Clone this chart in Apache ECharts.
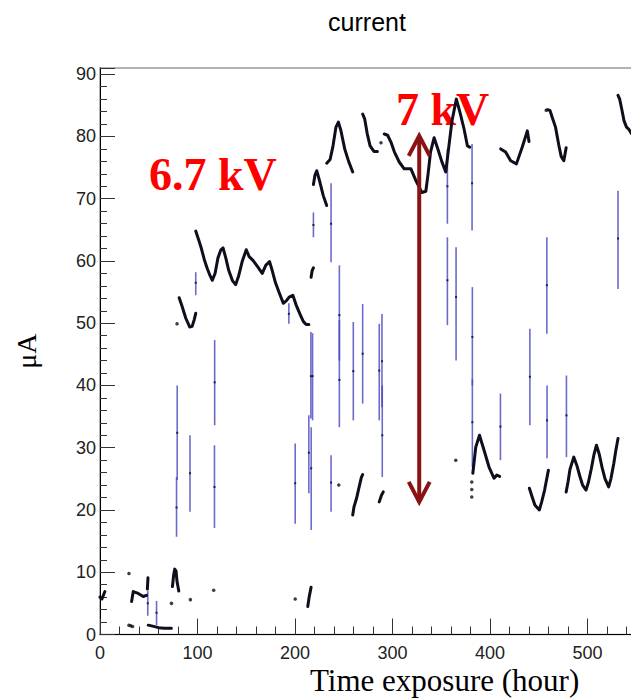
<!DOCTYPE html>
<html>
<head>
<meta charset="utf-8">
<script src="https://cdn.jsdelivr.net/npm/echarts@6/dist/echarts.min.js"></script>
<style>html,body{margin:0;padding:0;background:#fff;}#c{width:631px;height:700px;}</style>
</head>
<body>
<div id="c"></div>
<script>
// ---- tick labels / axis ----
const xTicks = [0, 100, 200, 300, 400, 500];
const yTicks = [0, 10, 20, 30, 40, 50, 60, 70, 80, 90];

// ---- black curve segments (x = hour, y = µA) ----
const segLowA = [[0,6.0],[2,5.7],[5,6.9]];
const segLowB = [[32.4,5.3],[34.1,6.9],[39.2,6.6],[44.3,6.1],[47.7,6.3]];
const segLowC = [[48.6,7.3],[49.2,9.1]];
const segLowD = [[49.5,1.5],[55,1.3],[60,1.1],[66,1.0],[73.2,1.0]];
const segLowE = [[74.3,7.7],[75.5,9.5],[76.7,10.5],[78,10.2],[79,8.5],[80.8,7.0]];
const segLowF = [[213.1,4.5],[214.5,6.0],[216.5,7.6]];
const seg67a = [[81.2,54.1],[84,52.8],[88,50.8],[92,49.4],[94.5,49.5],[96.5,50.5],[98.2,51.6]];
const seg67b = [[98.2,64.8],[101,63.5],[104,62],[107,60.2],[110,58.8],[113,57.6],[115.2,56.9],[118,58],[121,60.5],[124,61.8],[126.2,62.1],[129,60.5],[132,58.5],[136,56.8],[139.1,56.2],[142,57.5],[146,60],[150,61.8],[153,60.7],[156.9,60.1],[162,59],[166.4,58.0],[170,59.3],[173.9,59.9],[176,58.8],[180,56.5],[184,54.8],[188,53.2],[191,53.6],[194,54.2],[197.8,54.5],[201,53],[205,51.5],[208.5,50.3],[211.4,49.8],[214.2,49.8]];
const seg67c = [[216.5,57.4],[217.5,58.4],[218.9,58.9]];
const seg7a = [[218.9,72.3],[220.5,73.8],[222.3,74.5],[225,73],[229,70.5],[232.5,68.9]];
const seg7b = [[232.5,75.7],[236,76.3],[239,78.5],[242,81.5],[244.5,82.3],[247,81],[251,78],[255,76],[259.2,74.3]];
const seg7c = [[269.4,83.6],[271.5,82.8],[274,80.5],[277,78.5],[281,77.6],[284.5,77.6]];
const seg7d = [[291.6,80.4],[295,80.2],[298.4,79.1],[302,77.5],[306.9,75.9],[312,74.8],[318.9,74.8],[324,72.9],[330.1,71.0],[334.2,71.2],[336.5,74],[339,77.5],[342.7,79.8],[346.5,78],[350.5,76],[354.6,74.3],[357.5,78],[361,82.5],[365.5,86.0],[369,84],[373.4,81.2],[376.8,78.5],[379.2,78.3]];
const seg7e = [[411,78.0],[416,77.5],[421.2,76.1],[427.1,75.6],[433.1,78.3],[438.3,80.9],[440,79.2]];
const seg7f = [[459,84.3],[461.5,84.2],[463.5,83.2],[467.2,81.5],[470.6,78.6],[473,76.8],[475.7,76.1],[478.1,78.2]];
const seg7g = [[531.3,86.6],[533,86],[535,84.5],[537.5,82.5],[540,81.5],[542.2,81.2],[545,80.5]];
const seg7h = [[259.2,19.2],[260.5,20.5],[263,21.8],[265.5,23.5],[268,25.2],[269.4,25.7]];
const seg7i = [[286.4,21.3],[288.5,22.3],[290.5,22.9]];
const seg7j = [[382.4,25.9],[385.4,30.1],[389.2,32.0],[393.9,29.6],[399,26.9],[404.1,25.1],[407,25.6],[409.9,25.4]];
const seg7k = [[440.4,23.5],[443,22.2],[446,20.8],[450.6,20.0],[453,21.3],[456,23.2],[459.9,26.4]];
const seg7l = [[478.1,22.9],[480,24.5],[482,26.5],[485.9,28.5],[489,27.2],[492,25.5],[495,24],[498.5,23.2],[501,24.5],[504,26.7],[506.5,28.8],[509.2,30.4],[512,29],[515,26.8],[518,25],[521.7,23.7],[524,25],[527,27.5],[529,29.5],[531.3,31.5]];

// isolated black points
const blackDots = [[29.7,9.8],[29.7,1.5],[31.5,1.4],[33.4,1.3],[73.3,5.0],[92.7,5.6],[116.6,7.1],[200.2,5.7],[79,49.9],[244.9,24.0],[364.9,28.0],[381.3,24.5],[381.3,23.3],[381.3,22.1],[457.6,84.2],[288.2,79.0]];

// blue error bars: [x, value, low, high]
const errorBars = [
  [78.5,20.4,15.7,25.3],[79.2,32.4,24.8,40.0],[92.3,25.9,19.7,32.0],[98.2,56.5,54.5,58.2],
  [117.6,40.5,33.6,47.3],[117.4,23.7,17.1,30.4],[193.7,51.5,49.9,53.2],[200.2,24.3,17.8,30.7],
  [214.2,29.2,22.7,35.2],[216.6,26.7,16.8,33.3],[216.3,41.5,34.7,48.6],[218.0,41.5,34.4,48.4],
  [218.9,65.8,63.8,67.8],[237.0,66.0,59.8,72.5],[237.0,24.4,19.7,28.8],[245.5,51.3,44.0,59.3],
  [245.5,40.9,33.3,50.5],[259.8,42.3,34.4,50.2],[269.4,45.1,37.1,53.1],[286.4,42.4,34.4,49.9],
  [289.2,43.9,36.5,51.5],[289.5,32.0,25.3,40.0],[356.3,72.0,66.0,78.0],[356.3,56.9,49.7,63.8],
  [365.2,54.2,44.0,62.2],[381.6,72.5,64.9,78.8],[381.9,47.8,40.0,55.8],[381.9,34.1,26.9,41.0],
  [410.7,33.4,28.0,38.7],[440.9,41.4,33.6,49.1],[458.3,56.1,48.3,63.8],[458.5,34.4,28.3,40.0],
  [478.4,35.2,28.5,41.6],[531.3,63.6,55.5,71.3],[49,5.0,3.0,7.0],[58,3.5,1.5,5.4]
];

// voltage-step annotation arrow: [x, top, bottom]
const arrowSpan = [[327.4, 80.1, 21.3]];

const segments = [segLowA,segLowB,segLowC,segLowD,segLowE,segLowF,seg67a,seg67b,seg67c,
  seg7a,seg7b,seg7c,seg7d,seg7e,seg7f,seg7g,seg7h,seg7i,seg7j,seg7k,seg7l];

const chart = echarts.init(document.getElementById('c'), null, {renderer:'svg'});

const lineSeries = segments.map(seg => ({
  type:'line', data:seg, showSymbol:false, symbol:'none', z:5,
  lineStyle:{color:'#0e0e1c', width:3, cap:'round', join:'round'},
  silent:true, animation:false
}));

const option = {
  animation:false,
  backgroundColor:'#fff',
  grid:{left:100, top:68, width:546, height:566.5, show:true, borderColor:'#9a9a9a', borderWidth:1.5,
        containLabel:false, outerBoundsMode:'none'},
  xAxis:{
    type:'value', min:0, max:560, interval:100,
    axisLine:{onZero:false, lineStyle:{color:'#000', width:1}},
    axisTick:{inside:true, length:16, lineStyle:{color:'#333'}},
    minorTick:{show:true, splitNumber:5, length:8, lineStyle:{color:'#333'}},
    splitLine:{show:false},
    axisLabel:{fontSize:18, fontFamily:'Liberation Sans', color:'#222', margin:9,
      formatter: v => xTicks.indexOf(v) >= 0 ? String(v) : ''}
  },
  yAxis:{
    type:'value', min:0, max:91, interval:10,
    name:'μA', nameLocation:'middle', nameRotate:90, nameGap:60,
    nameTextStyle:{fontFamily:'Liberation Serif', fontSize:28, color:'#000'},
    axisLine:{onZero:false, lineStyle:{color:'#000', width:1}},
    axisTick:{inside:true, length:15, lineStyle:{color:'#333'}},
    minorTick:{show:true, splitNumber:5, length:7, lineStyle:{color:'#333'}},
    splitLine:{show:false},
    axisLabel:{fontSize:18, fontFamily:'Liberation Sans', color:'#222', margin:4,
      formatter: v => yTicks.indexOf(v) >= 0 ? String(v) : ''}
  },
  graphic:[
    {type:'text', style:{x:367, y:22, text:'current', font:'25px "Liberation Sans"', fill:'#000', textAlign:'center', textVerticalAlign:'middle'}},
    {type:'text', style:{x:310, y:680, text:'Time exposure (hour)', font:'31px "Liberation Serif"', fill:'#000', textAlign:'left', textVerticalAlign:'middle'}},
    {type:'text', style:{x:149, y:174, text:'6.7 kV', font:'bold 46px "Liberation Serif"', fill:'#ff0000', textAlign:'left', textVerticalAlign:'middle'}},
    {type:'text', style:{x:396, y:109, text:'7 kV', font:'bold 46px "Liberation Serif"', fill:'#ff0000', textAlign:'left', textVerticalAlign:'middle'}}
  ],
  series:[
    {
      type:'custom', data:errorBars, z:3, silent:true, clip:true,
      encode:{x:0, y:[1,2,3]},
      renderItem:(params, api) => {
        const x = api.value(0);
        const lo = api.coord([x, api.value(2)]);
        const hi = api.coord([x, api.value(3)]);
        const mid = api.coord([x, api.value(1)]);
        return {type:'group', children:[
          {type:'line', shape:{x1:lo[0], y1:lo[1], x2:hi[0], y2:hi[1]}, style:{stroke:'rgba(70,70,190,0.8)', lineWidth:1.6}},
          {type:'rect', shape:{x:mid[0]-1, y:mid[1]-1, width:2, height:2}, style:{fill:'#223'}}
        ]};
      }
    },
    ...lineSeries,
    {type:'scatter', data:blackDots, symbol:'circle', symbolSize:3.5, z:6, silent:true,
      itemStyle:{color:'#0e0e1c'}},
    {
      type:'custom', data:arrowSpan, z:10, silent:true, clip:false,
      encode:{x:0, y:[1,2]},
      renderItem:(params, api) => {
        const x = api.value(0);
        const t = api.coord([x, api.value(1)]);
        const b = api.coord([x, api.value(2)]);
        const hw = 10.5, hl = 20, c = '#8b1212';
        return {type:'group', children:[
          {type:'line', shape:{x1:t[0], y1:t[1]+2, x2:b[0], y2:b[1]-2}, style:{stroke:c, lineWidth:4}},
          {type:'polyline', shape:{points:[[t[0]-hw, t[1]+hl],[t[0], t[1]],[t[0]+hw, t[1]+hl]]}, style:{stroke:c, lineWidth:4, fill:null}},
          {type:'polyline', shape:{points:[[b[0]-hw, b[1]-hl],[b[0], b[1]],[b[0]+hw, b[1]-hl]]}, style:{stroke:c, lineWidth:4, fill:null}}
        ]};
      }
    }
  ]
};
chart.setOption(option);
</script>
</body>
</html>
